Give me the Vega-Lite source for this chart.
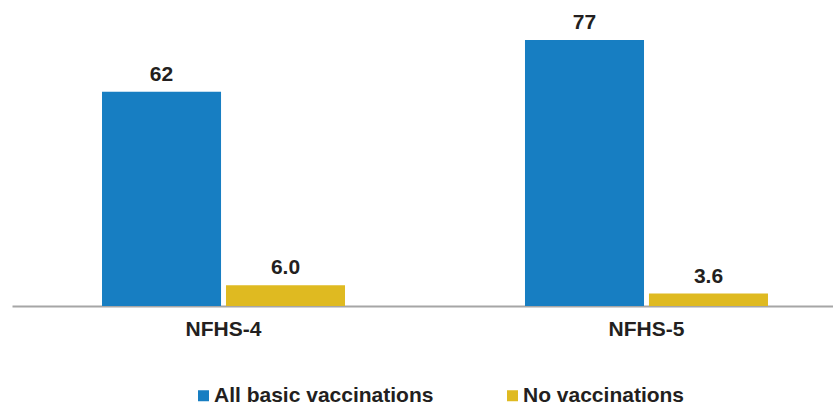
{
  "$schema": "https://vega.github.io/schema/vega-lite/v6.json",
  "width": 818,
  "height": 306,
  "autosize": {"type": "none"},
  "padding": {"left": 12, "top": 0, "right": 3, "bottom": 100},
  "background": "white",
  "config": {
    "view": {"stroke": null},
    "font": "Liberation Sans"
  },
  "data": {
    "values": [
      {"survey": "NFHS-4", "series": "All basic vaccinations", "value": 62, "label": "62"},
      {"survey": "NFHS-4", "series": "No vaccinations", "value": 6.0, "label": "6.0"},
      {"survey": "NFHS-5", "series": "All basic vaccinations", "value": 77, "label": "77"},
      {"survey": "NFHS-5", "series": "No vaccinations", "value": 3.6, "label": "3.6"}
    ]
  },
  "encoding": {
    "x": {
      "field": "survey",
      "type": "nominal",
      "scale": {"range": [0, 846], "paddingInner": 0.4255, "paddingOuter": 0.2128},
      "axis": {
        "title": null,
        "labelAngle": 0,
        "labelFont": "Liberation Sans",
        "labelFontSize": 21,
        "labelFontWeight": "bold",
        "labelColor": "#231F20",
        "labelPadding": 12,
        "ticks": false,
        "domainColor": "#A6A6A6",
        "domainWidth": 2,
        "grid": false
      }
    },
    "xOffset": {
      "field": "series",
      "type": "nominal",
      "scale": {"paddingInner": 0.04, "paddingOuter": 0}
    },
    "y": {
      "field": "value",
      "type": "quantitative",
      "scale": {"domain": [0, 88.6], "nice": false},
      "axis": null
    }
  },
  "layer": [
    {
      "mark": {"type": "bar"},
      "encoding": {
        "color": {
          "field": "series",
          "type": "nominal",
          "scale": {"domain": ["All basic vaccinations", "No vaccinations"], "range": ["#177EC2", "#DFBA21"]},
          "legend": {
            "title": null,
            "orient": "none",
            "direction": "horizontal",
            "legendX": 181,
            "legendY": 385,
            "symbolType": "square",
            "symbolSize": 121,
            "symbolStrokeWidth": 0,
            "symbolOpacity": 1,
            "labelFont": "Liberation Sans",
            "labelFontSize": 21,
            "labelFontWeight": "bold",
            "labelColor": "#231F20",
            "labelOffset": 0,
            "labelLimit": 0,
            "columnPadding": 68,
            "padding": 0
          }
        }
      }
    },
    {
      "mark": {"type": "text", "baseline": "alphabetic", "dy": -11, "font": "Liberation Sans", "fontSize": 21, "fontWeight": "bold", "color": "#231F20"},
      "encoding": {
        "text": {"field": "label"}
      }
    }
  ]
}
